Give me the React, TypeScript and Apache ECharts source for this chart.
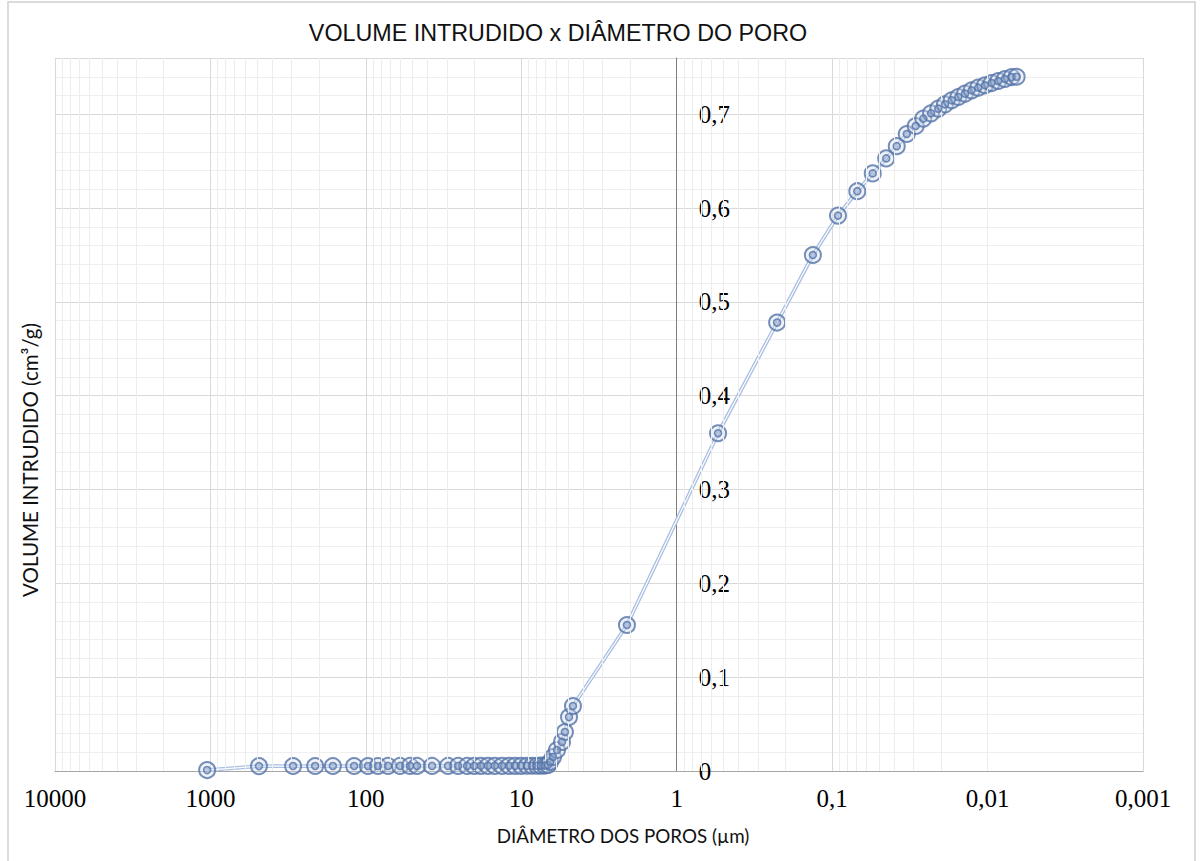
import React, { useEffect, useRef } from "react";
import * as echarts from "echarts";

// Pore diameter (µm) and intruded volume (cm³/g)
const DIAMETERS: number[] = [
  1050, 487, 294, 212, 163, 119, 96.9, 83.6, 72.0, 60.3, 52.0, 46.9, 37.5, 29.6,
  25.5, 22.3, 20.1, 18.2, 16.4, 14.8, 13.3, 12.0, 10.97, 10.04, 9.19, 8.53, 7.92,
  7.47, 7.04, 6.73, 6.53, 6.25, 5.89, 5.47, 5.24, 4.93, 4.65, 2.09, 0.542, 0.226,
  0.133, 0.0917, 0.0689, 0.0548, 0.0449, 0.0384, 0.0331, 0.029, 0.0259, 0.0231,
  0.02075, 0.0188, 0.017, 0.01542, 0.01397, 0.01265, 0.01148, 0.01039, 0.00941,
  0.00853, 0.00773, 0.007, 0.0065,
];
const VOLUMES: number[] = [
  0.001, 0.0052, 0.0053, 0.0053, 0.0053, 0.0053, 0.0053, 0.0053, 0.0054, 0.0054,
  0.0054, 0.0054, 0.0054, 0.0054, 0.0054, 0.0054, 0.0054, 0.0055, 0.0055, 0.0055,
  0.0055, 0.0055, 0.0055, 0.0055, 0.0056, 0.0056, 0.0056, 0.0057, 0.0058, 0.0065,
  0.0096, 0.0149, 0.0224, 0.031, 0.0416, 0.0575, 0.0693, 0.1556, 0.36, 0.478,
  0.55, 0.592, 0.618, 0.637, 0.653, 0.666, 0.679, 0.6875, 0.6954, 0.701, 0.706,
  0.7106, 0.7149, 0.7184, 0.722, 0.7255, 0.7284, 0.7309, 0.7333, 0.7355, 0.7376,
  0.7397, 0.74,
];

const X_MIN = 0.001;
const X_MAX = 10000;
const Y_AXIS_AT = 1; // the vertical axis crosses the x axis at 1 µm
const Y_MIN = 0;
const Y_MAX = 0.76;
const Y_INTERVAL = 0.1;
const DECADE_EXPONENTS = [-3, -2, -1, 0, 1, 2, 3];
const MINOR_MULTIPLIERS = [2, 3, 4, 5, 6, 7, 8, 9];

const TITLE = "VOLUME INTRUDIDO x DIÂMETRO DO PORO";
const X_NAME = "DIÂMETRO DOS POROS (µm)";
const Y_NAME = "VOLUME INTRUDIDO (cm³/g)";

const W = 1200;
const H = 861;
const GRID = { left: 55, right: 57, top: 58, bottom: 90 };

export default function App() {
  const ref = useRef<HTMLDivElement>(null);

  useEffect(() => {
    if (!ref.current) return;
    const chart = echarts.init(ref.current, undefined, { renderer: "svg" });

    const points = DIAMETERS.map((d, i) => [d, VOLUMES[i]]);
    const minorLines: any[] = [];
    DECADE_EXPONENTS.forEach((e) =>
      MINOR_MULTIPLIERS.forEach((m) => minorLines.push({ xAxis: +(m * Math.pow(10, e)).toPrecision(3) }))
    );

    const gridW = W - GRID.left - GRID.right;
    const yOffset =
      -gridW * (Math.log10(X_MAX) - Math.log10(Y_AXIS_AT)) / (Math.log10(X_MAX) - Math.log10(X_MIN));

    const serif = "'Liberation Serif', 'Times New Roman', serif";
    const sans = "'Liberation Sans', Arial, sans-serif";

    chart.setOption({
      animation: false,
      backgroundColor: "#ffffff",
      grid: { ...GRID },
      xAxis: {
        type: "log",
        logBase: 10,
        min: X_MIN,
        max: X_MAX,
        inverse: true,
        axisLine: { show: true, lineStyle: { color: "#a6a6a6", width: 1 } },
        axisTick: { show: false },
        axisLabel: {
          color: "#000",
          fontFamily: serif,
          fontSize: 25,
          margin: 15,
          formatter: (v: number) =>
            v >= 1 ? String(Math.round(v)) : String(+v.toPrecision(2)).replace(".", ","),
        },
        splitLine: { show: true, lineStyle: { color: "#d9d9d9", width: 1 } },
      },
      yAxis: {
        type: "value",
        min: Y_MIN,
        max: Y_MAX,
        interval: Y_INTERVAL,
        offset: yOffset,
        axisLine: { show: true, onZero: false, lineStyle: { color: "#7f7f7f", width: 1 } },
        axisTick: { show: false },
        axisLabel: {
          inside: true,
          margin: 22,
          showMaxLabel: false,
          color: "#000",
          fontFamily: serif,
          fontSize: 25,
          formatter: (v: number) => (v === 0 ? "0" : v.toFixed(1).replace(".", ",")),
        },
        splitLine: { show: true, lineStyle: { color: "#d9d9d9", width: 1 } },
        minorTick: { show: false, splitNumber: 5 },
        minorSplitLine: { show: true, lineStyle: { color: "#efefef", width: 1 } },
      },
      graphic: [
        {
          type: "rect",
          silent: true,
          shape: { x: 8, y: 2, width: 1187, height: 880 },
          style: { fill: "none", stroke: "#d0d0d0", lineWidth: 1.5 },
          z: -10,
        },
        {
          type: "text",
          x: 558,
          y: 33,
          style: {
            text: TITLE,
            fill: "#111",
            font: `23.3px ${sans}`,
            textAlign: "center",
            textVerticalAlign: "middle",
          },
        },
        {
          type: "text",
          x: 623,
          y: 835,
          style: {
            text: X_NAME,
            fill: "#111",
            font: `18.8px Lato, ${sans}`,
            textAlign: "center",
            textVerticalAlign: "middle",
          },
        },
        {
          type: "text",
          x: 30,
          y: 460,
          rotation: Math.PI / 2,
          style: {
            text: Y_NAME,
            fill: "#111",
            font: `20.5px Lato, ${sans}`,
            textAlign: "center",
            textVerticalAlign: "middle",
          },
        },
      ],
      series: [
        {
          type: "line",
          z: -1,
          data: points,
          showSymbol: false,
          silent: true,
          lineStyle: { opacity: 0 },
          markLine: {
            silent: true,
            symbol: ["none", "none"],
            label: { show: false },
            emphasis: { disabled: true },
            lineStyle: { color: "#ededed", width: 1, type: "solid" },
            data: minorLines,
          },
        },
        {
          type: "line",
          z: 2,
          data: points,
          showSymbol: false,
          silent: true,
          lineStyle: { color: "#a9bfe2", width: 3.8 },
        },
        {
          type: "line",
          z: 3,
          data: points,
          showSymbol: false,
          silent: true,
          lineStyle: { color: "#ffffff", width: 1.2 },
        },
        {
          type: "scatter",
          z: 4,
          data: points,
          symbol: "circle",
          symbolSize: 16,
          silent: true,
          itemStyle: { color: "rgba(215,225,240,0.5)", borderColor: "#5473a8", borderWidth: 2 },
        },
        {
          type: "scatter",
          z: 5,
          data: points,
          symbol: "circle",
          symbolSize: 7,
          silent: true,
          itemStyle: { color: "rgba(140,162,200,0.55)", borderColor: "#5473a8", borderWidth: 1.6 },
        },
      ],
    });

    return () => chart.dispose();
  }, []);

  return (
    <div
      ref={ref}
      style={{ position: "fixed", left: 0, top: 0, width: W, height: H, background: "#fff" }}
    />
  );
}
